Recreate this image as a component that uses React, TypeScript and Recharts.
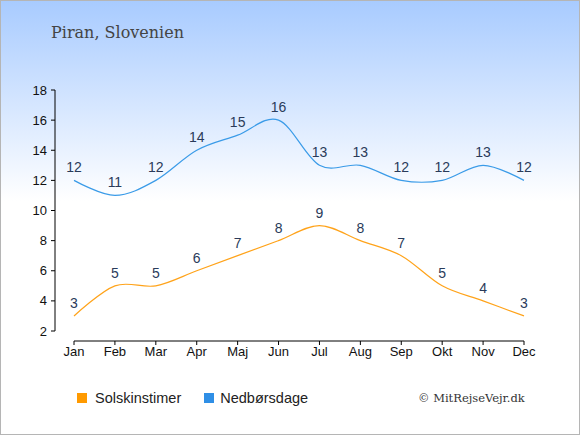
import React from "react";
import { LineChart, Line, XAxis, YAxis, LabelList } from "recharts";

// Piran, Slovenien – sun hours and precipitation days per month
const months = ["Jan", "Feb", "Mar", "Apr", "Maj", "Jun", "Jul", "Aug", "Sep", "Okt", "Nov", "Dec"];
const sunHours = [3, 5, 5, 6, 7, 8, 9, 8, 7, 5, 4, 3];
const rainDays = [12, 11, 12, 14, 15, 16, 13, 13, 12, 12, 13, 12];
const yTicks = [2, 4, 6, 8, 10, 12, 14, 16, 18];

const data = months.map((m, i) => ({ month: m, sun: sunHours[i], rain: rainDays[i] }));

const SUN = "#ffa31a";
const RAIN = "#3a9be8";
const SANS = '"Liberation Sans", Arial, sans-serif';
const SERIF = '"DejaVu Serif", serif';

// cardinal spline (tension 0), same as d3's curveCardinal
function cardinal(context: any) {
  const k = 1 / 6;
  let x0 = NaN, x1 = NaN, x2 = NaN, y0 = NaN, y1 = NaN, y2 = NaN;
  let pt = 0;
  let line: number = NaN;
  const bez = (x: number, y: number) => {
    context.bezierCurveTo(
      x1 + k * (x2 - x0), y1 + k * (y2 - y0),
      x2 + k * (x1 - x), y2 + k * (y1 - y),
      x2, y2
    );
  };
  return {
    areaStart() { line = 0; },
    areaEnd() { line = NaN; },
    lineStart() { x0 = x1 = x2 = y0 = y1 = y2 = NaN; pt = 0; },
    lineEnd() {
      if (pt === 2) context.lineTo(x2, y2);
      else if (pt === 3) bez(x1, y1);
      if (line || (line !== 0 && pt === 1)) context.closePath();
      line = 1 - line;
    },
    point(x: number, y: number) {
      x = +x; y = +y;
      if (pt === 0) { pt = 1; line ? context.lineTo(x, y) : context.moveTo(x, y); }
      else if (pt === 1) { pt = 2; x1 = x; y1 = y; }
      else { pt = 3; bez(x, y); }
      x0 = x1; x1 = x2; x2 = x;
      y0 = y1; y1 = y2; y2 = y;
    },
  };
}

const labelStyle = { fill: "#2a3b5a", fontSize: 14, fontFamily: SANS };

export default function App() {
  return (
    <div
      style={{
        position: "absolute",
        left: 0,
        top: 0,
        width: 580,
        height: 435,
        boxSizing: "border-box",
        border: "1px solid #b5b5b5",
        background: "linear-gradient(to bottom, #a8cbff 0px, #ffffff 200px)",
        overflow: "hidden",
      }}
    >
      <div style={{ position: "absolute", left: 50, top: 22, fontFamily: SERIF, fontSize: 16, color: "#444" }}>
        Piran, Slovenien
      </div>

      <div style={{ position: "absolute", left: -1, top: -1 }}>
        <LineChart width={580} height={435} data={data} margin={{ top: 90, right: 37, bottom: 64, left: 15 }}>
          <XAxis
            dataKey="month"
            padding={{ left: 19, right: 19 }}
            height={30}
            tickSize={4}
            tickMargin={2}
            axisLine={{ stroke: "#000", strokeDasharray: "0 19 450 1000" }}
            tickLine={{ stroke: "#000" }}
            tick={{ fill: "#111", fontSize: 13, fontFamily: SANS }}
            interval={0}
          />
          <YAxis
            domain={[2, 18]}
            ticks={yTicks}
            padding={{ top: 0, bottom: 10 }}
            width={40}
            tickSize={4}
            tickMargin={4}
            axisLine={{ stroke: "#000", strokeDasharray: "241 1000" }}
            tickLine={{ stroke: "#000" }}
            tick={{ fill: "#111", fontSize: 13, fontFamily: SANS }}
            interval={0}
          />
          <Line
            dataKey="sun"
            type={cardinal as any}
            stroke={SUN}
            strokeWidth={1.2}
            dot={false}
            isAnimationActive={false}
          >
            <LabelList dataKey="sun" position="top" offset={8} style={labelStyle} />
          </Line>
          <Line
            dataKey="rain"
            type={cardinal as any}
            stroke={RAIN}
            strokeWidth={1.2}
            dot={false}
            isAnimationActive={false}
          >
            <LabelList dataKey="rain" position="top" offset={8} style={labelStyle} />
          </Line>
        </LineChart>
      </div>

      {/* legend */}
      <div style={{ position: "absolute", left: 76, top: 389, display: "flex", alignItems: "center", fontFamily: SANS, fontSize: 14.5, color: "#222" }}>
        <span style={{ width: 10, height: 10, background: "#ff9a00", display: "inline-block", marginRight: 8 }} />
        <span>Solskinstimer</span>
        <span style={{ width: 10, height: 10, background: "#2f8fe6", display: "inline-block", marginLeft: 23, marginRight: 6 }} />
        <span>Nedbørsdage</span>
      </div>
      <div style={{ position: "absolute", left: 417, top: 390, fontFamily: SERIF, fontSize: 11.5, color: "#333" }}>
        © MitRejseVejr.dk
      </div>
    </div>
  );
}
